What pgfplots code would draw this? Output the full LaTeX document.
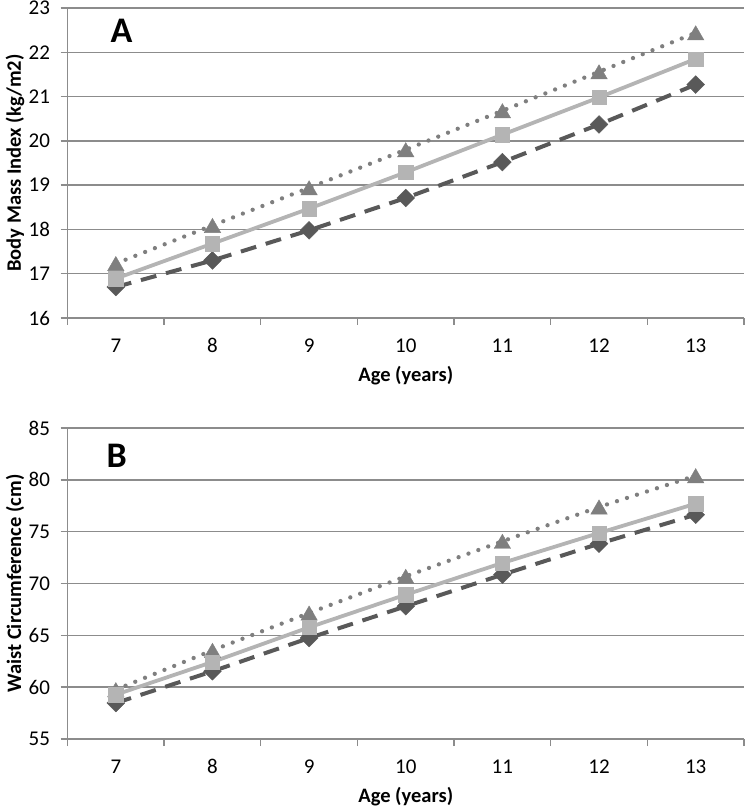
\documentclass[border=0pt]{standalone}
\usepackage{pgfplots}
\pgfplotsset{compat=1.18}
\usepackage{pgfplotstable}
\usepackage{fontspec}
\setmainfont{Carlito}
\definecolor{tri}{HTML}{7F7F7F}
\definecolor{sq}{HTML}{B4B4B4}
\definecolor{dia}{HTML}{595959}
\definecolor{gridc}{HTML}{8C8C8C}

\pgfplotstableread{
x tri sq dia
7 17.23 16.89 16.70
8 18.09 17.68 17.30
9 18.94 18.47 17.98
10 19.80 19.29 18.71
11 20.68 20.14 19.52
12 21.56 20.98 20.37
13 22.44 21.85 21.27
}\dataA
\pgfplotstableread{
x tri sq dia
7 59.76 59.28 58.47
8 63.55 62.43 61.53
9 67.15 65.77 64.74
10 70.69 68.92 67.80
11 74.07 71.98 70.85
12 77.38 74.87 73.84
13 80.40 77.70 76.64
}\dataB

\pgfplotsset{
 panel/.style={
  scale only axis, width=676.5pt, anchor=south west,
  xmin=6.5, xmax=13.5, xtick={7,...,13},
  minor xtick={6.5,7.5,...,13.5},
  every major x tick/.append style={draw=none},
  axis x line*=bottom, axis y line*=left,
  axis line style={gridc, line width=1.4pt, -},
  ymajorgrids, grid style={gridc, line width=1.4pt},
  tick style={gridc, line width=1.4pt},
  tick align=outside, major tick length=7pt, minor tick length=7pt,
  ticklabel style={font=\fontsize{21}{24}\selectfont},
  xticklabel style={yshift=-10pt},
  yticklabel style={xshift=-7pt},
  /pgf/number format/assume math mode=true,
  xlabel={Age (years)},
  label style={font=\fontsize{20.5}{24}\selectfont\bfseries},
  xlabel style={at={(axis description cs:0.5,0)}, anchor=north, yshift=-45pt},
  ylabel style={at={(axis description cs:0,0.5)}, anchor=center, rotate=0, yshift=52.5pt},
  clip=false,
 },
 diaplot/.style={dia, line width=4pt, dash pattern=on 16pt off 10pt,
   mark=square*, mark size=6.3pt, mark options={solid, rotate=45, fill=dia, draw=dia, line width=0.4pt}},
 triplot/.style={tri, line width=4.3pt, line cap=round, dash pattern=on 0pt off 10.5pt,
   mark=triangle*, mark size=9.5pt, mark options={solid, yshift=-2.4pt, fill=tri, draw=tri, line width=0.4pt}},
 sqplot/.style={sq, line width=3.8pt, solid,
   mark=square*, mark size=7.2pt, mark options={solid, fill=sq, draw=sq, line width=0.4pt}},
}

\begin{document}
\begin{tikzpicture}
\path[use as bounding box] (0,0) rectangle (745pt,808pt);
\begin{axis}[panel, at={(67.5pt,490pt)}, height=310pt,
  ymin=16, ymax=23, ytick={16,...,23},
  ylabel={Body Mass Index (kg/m2)}]
\addplot[diaplot] table[x=x, y=dia] {\dataA};
\addplot[triplot] table[x=x, y=tri] {\dataA};
\addplot[sqplot] table[x=x, y=sq] {\dataA};
\node[font=\fontsize{36}{40}\selectfont\bfseries] at (axis cs:7.06,22.48) {A};
\end{axis}
\begin{axis}[panel, at={(67.5pt,69pt)}, height=311pt,
  ymin=55, ymax=85, ytick={55,60,...,85},
  ylabel={Waist Circumference (cm)}]
\addplot[diaplot] table[x=x, y=dia] {\dataB};
\addplot[triplot] table[x=x, y=tri] {\dataB};
\addplot[sqplot] table[x=x, y=sq] {\dataB};
\node[font=\fontsize{36}{40}\selectfont\bfseries] at (axis cs:7.01,82.3) {B};
\end{axis}
\end{tikzpicture}
\end{document}
